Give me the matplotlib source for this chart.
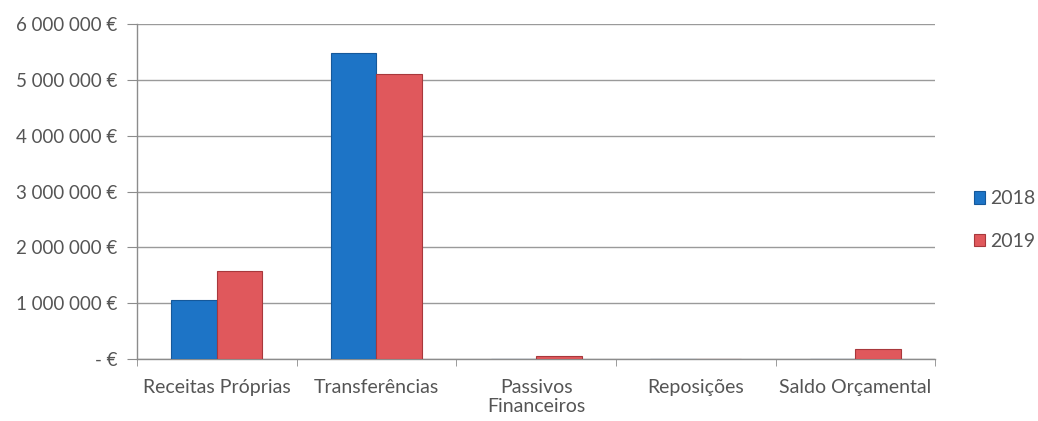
import matplotlib.pyplot as plt
import numpy as np

categorias = ["Receitas Próprias", "Transferências", "Passivos\nFinanceiros", "Reposições", "Saldo Orçamental"]
valores_2018 = [1060000, 5480000, 0, 0, 0]
valores_2019 = [1580000, 5110000, 50000, 0, 180000]
anos = ["2018", "2019"]

plt.rcParams['font.family'] = ['Lato', 'DejaVu Sans']
cinza = '#555555'

fig = plt.figure(figsize=(10.38, 4.21), dpi=100)
ax = fig.add_axes([0.132, 0.147, 0.769, 0.796])

x = np.arange(len(categorias))
w = 0.285
ax.bar(x - w/2, valores_2018, w, color='#1d74c6', edgecolor='#15589a', linewidth=0.8, label=anos[0], zorder=3)
ax.bar(x + w/2, valores_2019, w, color='#e0585c', edgecolor='#a8383c', linewidth=0.8, label=anos[1], zorder=3)

ax.set_xlim(-0.5, len(categorias) - 0.5)
ax.set_ylim(0, 6000000)

def euro(v, pos=None):
    if v == 0:
        return "- €"
    return f"{int(v):,}".replace(",", " ") + " €"

yt = np.arange(0, 6000001, 1000000)
ax.set_yticks(yt)
ax.set_yticklabels([euro(v) for v in yt], fontsize=13.5, color=cinza)
ax.yaxis.grid(True, color='#9a9a9a', linewidth=1, zorder=0)

ax.set_xticks(x)
ax.set_xticklabels(categorias, fontsize=14, color=cinza, linespacing=1.2)
ax.set_xticks(np.arange(-0.5, len(categorias)), minor=True)
ax.tick_params(axis='x', which='major', length=0, pad=14)
ax.tick_params(axis='x', which='minor', length=5, color='#8c8c8c')
ax.tick_params(axis='y', length=7, color='#8c8c8c', pad=7)

for s in ['top', 'right']:
    ax.spines[s].set_visible(False)
for s in ['left', 'bottom']:
    ax.spines[s].set_color('#8c8c8c')
    ax.spines[s].set_linewidth(1)

leg = ax.legend(loc='center left', bbox_to_anchor=(1.048, 0.415), frameon=False,
                fontsize=14, handlelength=0.6, handleheight=0.6, handletextpad=0.25,
                labelspacing=1.3, borderaxespad=0, borderpad=0)
for t in leg.get_texts():
    t.set_color(cinza)

fig.savefig("out.png", dpi=100)
